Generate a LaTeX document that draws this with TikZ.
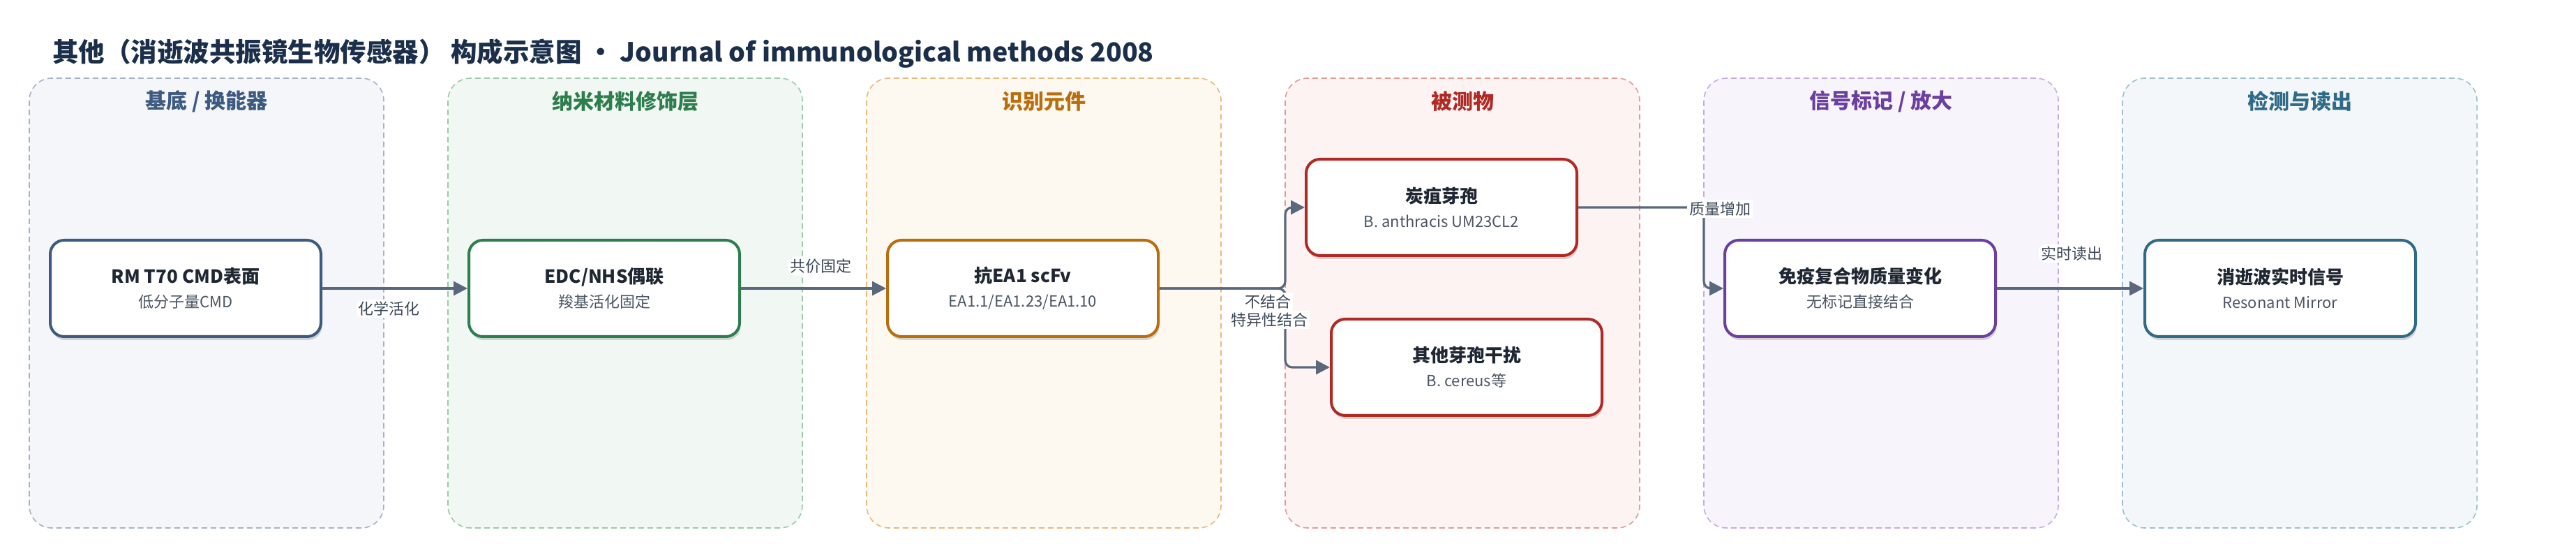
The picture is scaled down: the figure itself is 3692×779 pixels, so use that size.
\documentclass[tikz,border=0pt]{standalone}
\usepackage{fontspec}
\setmainfont{Noto Sans CJK SC}
\usetikzlibrary{arrows.meta,shadows}

% lane colours: fill, dashed border, heading
\definecolor{lf1}{HTML}{F4F6FA}\definecolor{ld1}{HTML}{A6B2C4}\definecolor{lt1}{HTML}{3D5A80}
\definecolor{lf2}{HTML}{F1F8F3}\definecolor{ld2}{HTML}{9CC9A8}\definecolor{lt2}{HTML}{2E7D4F}
\definecolor{lf3}{HTML}{FDF8F0}\definecolor{ld3}{HTML}{E5BA80}\definecolor{lt3}{HTML}{B86E0C}
\definecolor{lf4}{HTML}{FDF3F2}\definecolor{ld4}{HTML}{E29A98}\definecolor{lt4}{HTML}{B02A25}
\definecolor{lf5}{HTML}{F7F4FB}\definecolor{ld5}{HTML}{C4ACDF}\definecolor{lt5}{HTML}{6A3FA0}
\definecolor{lf6}{HTML}{F3F7F9}\definecolor{ld6}{HTML}{9DBFCD}\definecolor{lt6}{HTML}{2F6B87}
\definecolor{ink}{HTML}{1F2733}
\definecolor{titleink}{HTML}{1B2F4B}
\definecolor{subink}{HTML}{4A5563}
\definecolor{labink}{HTML}{3C4858}
\definecolor{edge}{HTML}{5A687D}

\newcommand{\stagetext}[2]{{\fontsize{13}{17.5}\selectfont\bfseries\color{ink}#1}\\#2}

\tikzset{
  lanebox/.style={dash pattern=on 4pt off 2.5pt, line width=0.8pt, rounded corners=16pt},
  lanehead/.style={font=\bfseries\fontsize{15}{18}\selectfont},
  unit/.style={draw, line width=2pt, rounded corners=10pt, fill=white,
    minimum width=194pt, minimum height=69pt, align=center,
    font=\fontsize{11}{17.5}\selectfont, text=subink,
    drop shadow={shadow xshift=0.8pt, shadow yshift=-2.5pt, opacity=.15, fill=black}},
  flow/.style={draw=edge, line width=1.6pt, rounded corners=5pt,
    -{Triangle[length=10pt,width=10pt]}},
  lbl/.style={fill=white, inner sep=1.5pt, text=labink, font=\fontsize{11}{13}\selectfont},
}

\begin{document}
\begin{tikzpicture}[x=0.5pt,y=-0.5pt]
\useasboundingbox (0,0) rectangle (3692,779);

\node[anchor=west, inner sep=0, text=titleink, font=\bfseries\fontsize{18.75}{22}\selectfont] (title) at (75,77)
  {其他（消逝波共振镜生物传感器） 构成示意图 • Journal of immunological methods 2008};

% lanes
\foreach \i/\ttl in {1/{基底 / 换能器},2/纳米材料修饰层,3/识别元件,4/被测物,5/{信号标记 / 放大},6/检测与读出} {
  \draw[lanebox, fill=lf\i, draw=ld\i] ({42+600*(\i-1)},112) rectangle ++(508,644);
  \node[lanehead, text=lt\i] (h\i) at ({296+600*(\i-1)},145) {\ttl};
}

% stages
\node[unit, draw=lt1] (cmd) at (266,413) {\stagetext{RM T70 CMD表面}{低分子量CMD}};
\node[unit, draw=lt2] (edc) at (866,413) {\stagetext{EDC/NHS偶联}{羧基活化固定}};
\node[unit, draw=lt3] (scfv) at (1466,413) {\stagetext{抗EA1 scFv}{EA1.1/EA1.23/EA1.10}};
\node[unit, draw=lt4] (ba) at (2066,297) {\stagetext{炭疽芽孢}{B. anthracis UM23CL2}};
\node[unit, draw=lt4] (bc) at (2102,526) {\stagetext{其他芽孢干扰}{B. cereus等}};
\node[unit, draw=lt5] (cpx) at (2666,413) {\stagetext{免疫复合物质量变化}{无标记直接结合}};
\node[unit, draw=lt6] (rm) at (3268,413) {\stagetext{消逝波实时信号}{Resonant Mirror}};

\coordinate (fork) at (1842,413);
\coordinate (turn) at (2442,413);

% connectors
\draw[flow] (cmd) -- node[lbl, pos=.46, yshift=-14.5pt] (l1) {化学活化} (edc);
\draw[flow] (edc) -- node[lbl, pos=.55, yshift=16pt] (l2) {共价固定} (scfv);
\draw[flow] (scfv) -- (fork) |- (ba);
\draw[flow] (scfv) -- (fork) |- (bc);
\draw[flow] (ba) -| (turn) -- (cpx);
\draw[flow] (cpx) -- node[lbl, pos=.51, yshift=25pt] (l6) {实时读出} (rm);

\node[lbl] (l3) at (1817,432) {不结合};
\node[lbl] (l4) at (1819,458) {特异性结合};
\node[lbl] (l5) at (2465,299) {质量增加};
\end{tikzpicture}
\end{document}
